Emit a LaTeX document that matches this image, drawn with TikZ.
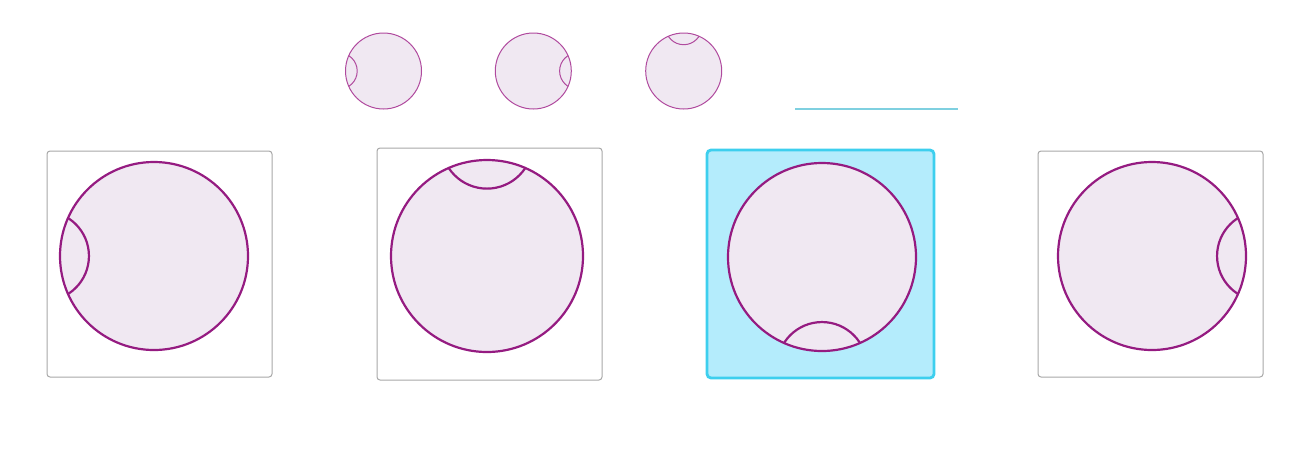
\documentclass[tikz,border=0pt]{standalone}
\usetikzlibrary{calc}
\definecolor{ballfillc}{HTML}{F0E8F2}
\definecolor{ballline}{HTML}{951B81}
\definecolor{smallline}{HTML}{B04A9E}
\definecolor{boxline}{HTML}{A8A8A8}
\definecolor{selfill}{HTML}{B4ECFC}
\definecolor{selline}{HTML}{3DCFEE}
\definecolor{tealline}{HTML}{7FD0E0}
\tikzset{
  ballfill/.style={fill=ballfillc},
  bigball/.style={draw=ballline, line width=2.2pt},
  smallball/.style={draw=smallline, line width=1pt},
  plainbox/.style={draw=boxline, line width=1pt, rounded corners=3pt, fill=white},
  selbox/.style={draw=selline, line width=2.8pt, rounded corners=4pt, fill=selfill},
}
\newcommand\lensball[6]{%
  \begin{scope}
    \fill[ballfill] (#1,#2) circle[radius=#3];
    \clip (#1,#2) circle[radius=#3];
    \draw[#6] ({#1+#4*#3},{#2+#5*#3}) circle[radius={0.478*#3}];
  \end{scope}
  \draw[#6] (#1,#2) circle[radius=#3];
}
\begin{document}
\begin{tikzpicture}[x=1pt,y=-1pt]
\useasboundingbox (0,0) rectangle (1316,467);
% small preview balls
\lensball{383.5}{71}{38}{-1.17}{0}{smallball}
\lensball{533.3}{71}{38}{1.17}{0}{smallball}
\lensball{683.7}{71}{38}{0}{-1.17}{smallball}
\coordinate (la) at (795,109);
\coordinate (lb) at (958,109);
\draw[tealline, line width=1.3pt] (la) -- (lb);
% boxes
\draw[plainbox] (47,151) rectangle (272,377);
\draw[plainbox] (377,148) rectangle (602,380);
\draw[selbox] (707,150) rectangle (934,378);
\draw[plainbox] (1038,151) rectangle (1263,377);
% big balls
\lensball{154}{256}{94}{-1.17}{0}{bigball}
\lensball{487}{256}{96}{0}{-1.18}{bigball}
\lensball{822}{257}{94}{0}{1.17}{bigball}
\lensball{1152}{256}{94}{1.17}{0}{bigball}
\end{tikzpicture}
\end{document}
